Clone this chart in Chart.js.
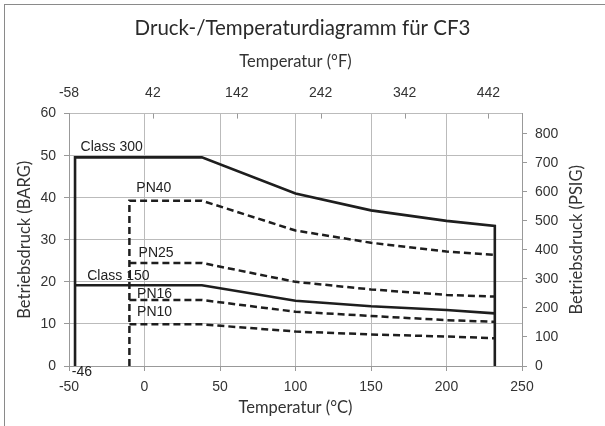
<!DOCTYPE html>
<html>
<head>
<meta charset="utf-8">
<script src="https://cdn.jsdelivr.net/npm/chart.js@4.4.0/dist/chart.umd.min.js"></script>
<style>
  body { margin: 0; background: #fff; }
  #wrap { position: relative; width: 605px; height: 426px; }
  #frame { position: absolute; left: 4px; top: 4px; right: 0; bottom: 0;
           border-left: 1px solid #8a8a8a; border-top: 1px solid #8a8a8a; pointer-events: none; }
</style>
</head>
<body>
<div id="wrap">
  <canvas id="chart1" width="605" height="426"></canvas>
  <div id="frame"></div>
</div>
<script>
// temperature in °C, pressure in bar
var class300Temp = [-46, -46, 38, 100, 150, 200, 232, 232];
var class300Bar  = [0, 49.6, 49.6, 41.0, 37.0, 34.5, 33.3, 0];
var class150Temp = [-46, 38, 100, 150, 200, 232];
var class150Bar  = [19.2, 19.2, 15.5, 14.2, 13.3, 12.5];
var pn40Temp = [-10, -10, 38, 100, 150, 200, 232];
var pn40Bar  = [0, 39.3, 39.3, 32.2, 29.3, 27.2, 26.4];
var pnTemp   = [-10, 38, 100, 150, 200, 232];
var pn25Bar  = [24.5, 24.5, 20.0, 18.2, 16.9, 16.5];
var pn16Bar  = [15.7, 15.7, 12.9, 11.9, 10.9, 10.5];
var pn10Bar  = [9.9, 9.9, 8.2, 7.5, 7.0, 6.6];

// top axis tick labels in °F
var fahrenheitTicks = [-58, 42, 142, 242, 342, 442];

// curve labels (text, °C, bar)
var labelText = ['Class 300', 'PN40', 'PN25', 'Class 150', 'PN16', 'PN10', '-46'];
var labelTemp = [-21.7, 6.2, 7.7, -17.3, 6.7, 6.7, -41.5];
var labelBar  = [52.0, 42.2, 26.9, 21.4, 17.1, 12.7, -1.4];

var PSI_PER_BAR = 14.5;

function pts(xs, ys) {
  return xs.map(function (x, i) { return { x: x, y: ys[i] }; });
}

function series(label, xs, ys, dashed) {
  return {
    label: label,
    data: pts(xs, ys),
    borderColor: '#1e1e1e',
    borderWidth: dashed ? 2.5 : 2.6,
    borderDash: dashed ? [7, 4] : [],
    pointRadius: 0,
    tension: 0,
    fill: false
  };
}

var tickFont = { family: '"Liberation Sans", Arial, sans-serif', size: 14 };
var titleFont = { family: 'Lato, sans-serif', size: 16.5 };

// curve names, inward ticks of the top axis, right axis title (reads bottom to top)
var labelPlugin = {
  id: 'curveLabels',
  beforeDatasetsDraw: function (chart) {
    var ctx = chart.ctx, sx = chart.scales.x, sy = chart.scales.y;
    var area = chart.chartArea;
    ctx.save();
    ctx.font = '14px "Liberation Sans", Arial, sans-serif';
    ctx.fillStyle = '#222';
    ctx.textAlign = 'center';
    ctx.textBaseline = 'middle';
    for (var i = 0; i < labelText.length; i++) {
      ctx.fillText(labelText[i], sx.getPixelForValue(labelTemp[i]), sy.getPixelForValue(labelBar[i]));
    }
    var top = chart.scales.x2;
    ctx.strokeStyle = '#999';
    ctx.lineWidth = 1;
    top.ticks.forEach(function (t) {
      var px = Math.round(top.getPixelForValue(t.value)) + 0.5;
      ctx.beginPath();
      ctx.moveTo(px, area.top);
      ctx.lineTo(px, area.top + 5);
      ctx.stroke();
    });
    ctx.translate(576.5, (area.top + area.bottom) / 2);
    ctx.rotate(-Math.PI / 2);
    ctx.font = '16.5px Lato, sans-serif';
    ctx.fillStyle = '#333';
    ctx.fillText('Betriebsdruck (PSIG)', 0, 0);
    ctx.restore();
  }
};

var graph = document.getElementById('chart1');

var myChart = new Chart(graph, {
  type: 'line',
  data: {
    datasets: [
      series('Class 300', class300Temp, class300Bar, false),
      series('Class 150', class150Temp, class150Bar, false),
      series('PN40', pn40Temp, pn40Bar, true),
      series('PN25', pnTemp, pn25Bar, true),
      series('PN16', pnTemp, pn16Bar, true),
      series('PN10', pnTemp, pn10Bar, true)
    ]
  },
  options: {
    responsive: false,
    animation: false,
    layout: { padding: 0 },
    plugins: {
      legend: { display: false },
      tooltip: { enabled: false },
      title: {
        display: true,
        text: 'Druck-/Temperaturdiagramm für CF3',
        color: '#2a2a2a',
        font: { family: 'Lato, sans-serif', size: 20.5, weight: 'normal' },
        padding: { top: 16, bottom: 0 }
      }
    },
    scales: {
      x: {
        type: 'linear',
        position: 'bottom',
        min: -50, max: 250,
        ticks: { stepSize: 50, color: '#333', font: tickFont, padding: 8, maxRotation: 0 },
        grid: { color: '#bbb', tickColor: '#999', tickLength: 5 },
        border: { color: '#999' },
        title: { display: true, text: 'Temperatur (°C)', color: '#333', font: titleFont, padding: { top: 0, bottom: 8 } },
        afterFit: function (s) { s.height = 60; }
      },
      x2: {
        type: 'linear',
        position: 'top',
        min: -58, max: 482,
        ticks: { color: '#333', font: tickFont, padding: 12, maxRotation: 0 },
        grid: { drawOnChartArea: false, drawTicks: false },
        border: { display: false },
        title: { display: true, text: 'Temperatur (°F)', color: '#333', font: titleFont, padding: { top: 11, bottom: 0 } },
        afterBuildTicks: function (s) { s.ticks = fahrenheitTicks.map(function (v) { return { value: v }; }); },
        afterFit: function (s) { s.height = 73; }
      },
      y: {
        type: 'linear',
        position: 'left',
        min: 0, max: 60,
        ticks: { stepSize: 10, color: '#333', font: tickFont, padding: 8 },
        grid: { color: '#bbb', tickColor: '#999', tickLength: 5 },
        border: { color: '#999' },
        title: { display: true, text: 'Betriebsdruck (BARG)', color: '#333', font: titleFont, padding: { top: 14.5, bottom: 0 } },
        afterFit: function (s) { s.width = 69; }
      },
      y2: {
        type: 'linear',
        position: 'right',
        min: 0, max: 60 * PSI_PER_BAR,
        ticks: { stepSize: 100, color: '#333', font: tickFont, padding: 8 },
        grid: { drawOnChartArea: false, tickColor: '#999', tickLength: 5 },
        border: { color: '#999' },
        afterBuildTicks: function (s) { s.ticks = s.ticks.filter(function (t) { return t.value % 100 === 0; }); },
        afterFit: function (s) { s.width = 83; }
      }
    }
  },
  plugins: [labelPlugin]
});
</script>
</body>
</html>
